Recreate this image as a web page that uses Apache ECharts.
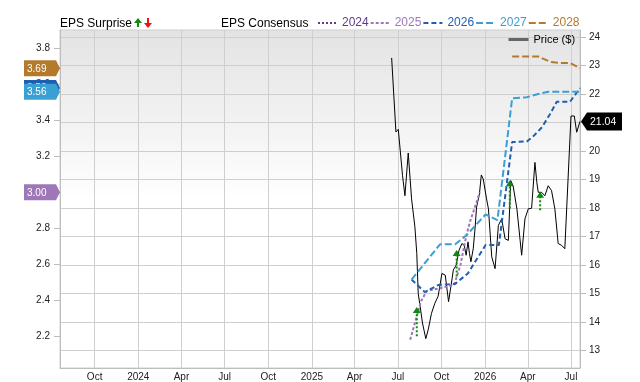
<!DOCTYPE html>
<html><head><meta charset="utf-8">
<script src="https://cdn.jsdelivr.net/npm/echarts@6/dist/echarts.min.js"></script>
<style>html,body{margin:0;padding:0;background:#fff}#c{width:640px;height:382px}</style>
</head><body><div id="c"></div>
<script>
// ---------- data ----------
const xRange = ['2023-07-20', '2026-07-20'];
const xTickDates = ['2023-10-01','2024-01-01','2024-04-01','2024-07-01','2024-10-01','2025-01-01','2025-04-01','2025-07-01','2025-10-01','2026-01-01','2026-04-01','2026-07-01'];
const xTickLabels = ['Oct','2024','Apr','Jul','Oct','2025','Apr','Jul','Oct','2026','Apr','Jul'];
const epsTicks = [2.2, 2.4, 2.6, 2.8, 3.0, 3.2, 3.4, 3.6, 3.8];
const priceTicks = [13,14,15,16,17,18,19,20,21,22,23,24];

const priceDates = ['2025-06-18','2025-06-27','2025-07-02','2025-07-11','2025-07-16','2025-07-23','2025-07-30','2025-08-06','2025-08-10','2025-08-13','2025-08-17','2025-08-22','2025-08-29','2025-09-03','2025-09-10','2025-09-17','2025-09-24','2025-10-02','2025-10-09','2025-10-16','2025-10-23','2025-10-26','2025-11-01','2025-11-07','2025-11-13','2025-11-18','2025-11-22','2025-11-26','2025-11-29','2025-12-02','2025-12-07','2025-12-11','2025-12-14','2025-12-20','2025-12-24','2025-12-28','2026-01-04','2026-01-08','2026-01-15','2026-01-22','2026-01-29','2026-02-05','2026-02-12','2026-02-19','2026-02-24','2026-03-01','2026-03-09','2026-03-19','2026-03-26','2026-04-02','2026-04-09','2026-04-16','2026-04-20','2026-04-23','2026-04-30','2026-05-07','2026-05-14','2026-05-21','2026-05-28','2026-06-04','2026-06-11','2026-06-18','2026-07-01','2026-07-08','2026-07-13','2026-07-20'];
const priceValues = [23.27,20.67,20.76,19.13,18.43,19.93,18.32,17.34,16.40,15.00,14.55,13.96,13.41,13.72,14.30,14.65,14.90,15.70,15.64,14.71,15.47,15.82,15.99,16.51,16.75,16.69,16.34,16.81,16.40,16.11,16.57,17.33,18.03,18.49,19.16,19.02,18.32,17.97,16.28,15.87,17.39,17.62,16.92,16.86,18.96,18.78,17.97,16.34,17.62,17.97,17.99,19.60,18.90,18.55,18.55,18.43,18.78,18.61,17.97,16.75,16.69,16.57,21.23,21.23,20.66,21.04];

const eps2024Dates = [];
const eps2024Values = [];
const eps2025Dates = ['2025-07-27','2025-08-19','2025-08-31','2025-09-28','2025-10-28','2025-11-10','2025-11-22','2025-12-01','2025-12-21'];
const eps2025Values = [2.18,2.395,2.452,2.467,2.486,2.596,2.755,2.844,3.00];
const eps2026Dates = ['2025-07-30','2025-08-27','2025-09-24','2025-10-30','2025-11-26','2026-01-02','2026-01-30','2026-02-27','2026-03-30','2026-04-13','2026-05-01','2026-05-18','2026-06-01','2026-06-29','2026-07-20'];
const eps2026Values = [2.515,2.445,2.484,2.491,2.55,2.707,2.707,3.28,3.283,3.313,3.363,3.436,3.504,3.504,3.58];
const eps2027Dates = ['2025-07-30','2025-09-28','2025-10-30','2025-11-23','2026-01-02','2026-01-27','2026-02-27','2026-03-30','2026-04-23','2026-05-14','2026-07-20'];
const eps2027Values = [2.515,2.711,2.711,2.762,2.877,2.845,3.523,3.529,3.547,3.56,3.56];
const eps2028Dates = ['2026-02-27','2026-04-23','2026-05-18','2026-06-08','2026-06-29','2026-07-20'];
const eps2028Values = [3.756,3.756,3.726,3.719,3.719,3.69];

const surpriseDates = ['2025-08-10','2025-11-02','2026-02-22','2026-04-27'];
const surpriseEstimate = [2.20,2.532,2.91,2.90];
const surpriseActual = [2.362,2.679,3.067,3.003];

// ---------- helpers / styles ----------
const T = s => { const [y,m,d] = s.split('-').map(Number); return Date.UTC(y, m-1, d); };
const zip = (ds, vs) => ds.map((d,i) => [T(d), vs[i]]);
const FONT = '"Liberation Sans", Arial, sans-serif';
const C = {y2024:'#5f3a86', y2025:'#9e77b8', y2026:'#1f5fb2', y2027:'#3a9fd3', y2028:'#b47a2c'};
const xMin = T(xRange[0]), xMax = T(xRange[1]);
const labelMap = {}; xTickDates.forEach((d,i)=>labelMap[T(d)] = xTickLabels[i]);

const epsSeries = [
  {name:'2024', ds:eps2024Dates, vs:eps2024Values, color:C.y2024, dash:[2,2]},
  {name:'2025', ds:eps2025Dates, vs:eps2025Values, color:C.y2025, dash:[3,2]},
  {name:'2026', ds:eps2026Dates, vs:eps2026Values, color:C.y2026, dash:[5,3]},
  {name:'2027', ds:eps2027Dates, vs:eps2027Values, color:C.y2027, dash:[7,3]},
  {name:'2028', ds:eps2028Dates, vs:eps2028Values, color:C.y2028, dash:[7,3]}
];
const tagData = [];
[1,2,3,4].forEach(i => { const s = epsSeries[i]; if (s.vs.length) tagData.push([xMin, s.vs[s.vs.length-1], i]); });
// draw order: 2028, 2026, 2027, 2025
const tagOrder = [3,1,0,2].map(k=>tagData[k]).filter(Boolean);

const chart = echarts.init(document.getElementById('c'), null, {renderer:'canvas'});
const option = {
  animation:false,
  textStyle:{fontFamily:FONT},
  grid:{left:60, right:60, top:30, bottom:12, show:true, borderColor:'#cfcfcf', borderWidth:1,
    backgroundColor:{type:'linear', x:0, y:0, x2:0, y2:1, colorStops:[{offset:0,color:'#e3e3e3'},{offset:0.5,color:'#ffffff'},{offset:1,color:'#ffffff'}]}},
  legend:[
    {left:317, top:17, padding:0, itemWidth:19, itemHeight:14, itemGap:1,
     itemStyle:{opacity:0},
     data: epsSeries.map(s=>({name:s.name, textStyle:{color:s.color}})),
     textStyle:{fontSize:12, fontFamily:FONT}, selectedMode:false},
    {left:507, top:34, padding:0, itemWidth:20, itemHeight:12, selectedMode:false,
     itemStyle:{opacity:0},
     data:[{name:'Price ($)', lineStyle:{color:'#666', width:3}, textStyle:{color:'#000'}}],
     textStyle:{fontSize:11, fontFamily:FONT}}
  ],
  graphic:[
    {type:'text', left:60, top:18, style:{text:'EPS Surprise', font:'12px '+FONT, fill:'#000'}},
    {type:'polygon', shape:{points:[[138,18],[134,23],[137,23],[137,27],[139,27],[139,23],[142,23]]}, style:{fill:'#118811'}},
    {type:'polygon', shape:{points:[[148,28],[144,23],[147,23],[147,18],[149,18],[149,23],[152,23]]}, style:{fill:'#ee1111'}},
    {type:'text', left:221, top:18, style:{text:'EPS Consensus', font:'12px '+FONT, fill:'#000'}}
  ],
  xAxis:{type:'value', min:xMin, max:xMax,
    axisLine:{show:true, lineStyle:{color:'#bdbdbd'}},
    axisTick:{show:false, customValues: xTickDates.map(T)},
    splitLine:{show:true, lineStyle:{color:'#cfcfcf'}},
    axisLabel:{customValues: xTickDates.map(T), formatter: v => labelMap[v] || '', fontSize:10, color:'#222', margin:4, fontFamily:FONT}
  },
  yAxis:[
    {type:'value', position:'left', min:2.023, max:3.903,
     axisLine:{show:true, lineStyle:{color:'#bdbdbd'}},
     axisTick:{show:true, length:6, customValues:epsTicks, lineStyle:{color:'#bdbdbd'}},
     splitLine:{show:false},
     axisLabel:{customValues:epsTicks, formatter:v=>v.toFixed(1), fontSize:10, color:'#222', margin:10, fontFamily:FONT}},
    {type:'value', position:'right', min:12.38, max:24.25,
     axisLine:{show:true, lineStyle:{color:'#bdbdbd'}},
     axisTick:{show:true, length:6, customValues:priceTicks, lineStyle:{color:'#bdbdbd'}},
     splitLine:{show:true, lineStyle:{color:'#cfcfcf'}},
     axisLabel:{customValues:priceTicks, formatter:v=>String(Math.round(v)), fontSize:10, color:'#222', margin:9, fontFamily:FONT}}
  ],
  series:[
    {name:'Price ($)', type:'line', yAxisIndex:1, symbol:'none', z:2,
     data: zip(priceDates, priceValues), lineStyle:{color:'#000', width:1}, itemStyle:{color:'#000'}},
    ...epsSeries.map(s=>({name:s.name, type:'line', yAxisIndex:0, symbol:'none', z:3,
      data: zip(s.ds, s.vs), lineStyle:{color:s.color, width:2, type:s.dash}, itemStyle:{color:s.color}})),
    {name:'surprise', type:'custom', yAxisIndex:0, z:5, clip:false,
     data: surpriseDates.map((d,i)=>[T(d), surpriseEstimate[i], surpriseActual[i]]),
     encode:{x:0, y:[1,2]},
     renderItem:(params, api)=>{
       const b = api.coord([api.value(0), api.value(1)]);
       const t = api.coord([api.value(0), api.value(2)]);
       const up = api.value(2) >= api.value(1);
       const col = up ? '#118811' : '#ee1111';
       const dir = up ? 1 : -1;
       return {type:'group', children:[
         {type:'line', shape:{x1:b[0], y1:b[1], x2:t[0], y2:t[1]+dir*5}, style:{stroke:col, lineWidth:2, lineDash:[2,2]}},
         {type:'polygon', shape:{points:[[t[0], t[1]], [t[0]-4, t[1]+dir*6], [t[0]+4, t[1]+dir*6]]}, style:{fill:col}}
       ]};
     }},
    {name:'tags', type:'custom', yAxisIndex:0, z:6, clip:false,
     data: tagOrder, encode:{x:0, y:1},
     renderItem:(params, api)=>{
       const p = api.coord([api.value(0), api.value(1)]);
       const x = p[0], y = p[1];
       const col = epsSeries[api.value(2)].color;
       return {type:'group', children:[
         {type:'polygon', shape:{points:[[x-36,y-8],[x-4,y-8],[x,y],[x-4,y+8],[x-36,y+8]]}, style:{fill:col}},
         {type:'text', style:{text:api.value(1).toFixed(2), x:x-33, y:y+0.5, verticalAlign:'middle', align:'left', fill:'#fff', font:'10px '+FONT}}
       ]};
     }},
    {name:'priceTag', type:'custom', yAxisIndex:1, z:6, clip:false,
     data: [[xMax, priceValues[priceValues.length-1]]], encode:{x:0, y:1},
     renderItem:(params, api)=>{
       const p = api.coord([api.value(0), api.value(1)]);
       const x = p[0], y = p[1];
       return {type:'group', children:[
         {type:'polygon', shape:{points:[[x+1,y],[x+7,y-9],[x+42,y-9],[x+42,y+9],[x+7,y+9]]}, style:{fill:'#000'}},
         {type:'text', style:{text:api.value(1).toFixed(2), x:x+10, y:y+0.5, verticalAlign:'middle', align:'left', fill:'#fff', font:'10.5px '+FONT}}
       ]};
     }}
  ]
};
chart.setOption(option);
</script>
</body></html>
